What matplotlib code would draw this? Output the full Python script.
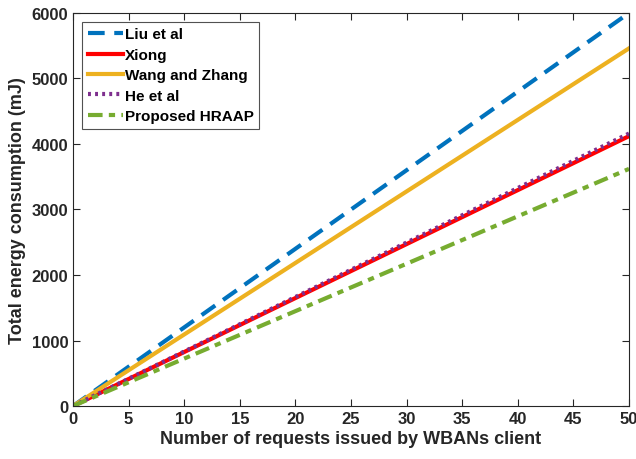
import matplotlib
matplotlib.use("Agg")
import matplotlib.pyplot as plt

x = [0, 5, 10, 15, 20, 25, 30, 35, 40, 45, 50]
liu = [0, 600, 1200, 1800, 2400, 3000, 3600, 4200, 4800, 5400, 6000]
xiong = [0, 412, 824, 1236, 1648, 2060, 2472, 2884, 3296, 3708, 4120]
wang = [0, 546, 1092, 1638, 2184, 2730, 3276, 3822, 4368, 4914, 5460]
he = [0, 416, 832, 1248, 1664, 2080, 2496, 2912, 3328, 3744, 4160]
proposed = [0, 362, 724, 1086, 1448, 1810, 2172, 2534, 2896, 3258, 3620]
labels = ["Liu et al", "Xiong", "Wang and Zhang", "He et al", "Proposed HRAAP"]
xticks = [0, 5, 10, 15, 20, 25, 30, 35, 40, 45, 50]
yticks = [0, 1000, 2000, 3000, 4000, 5000, 6000]

plt.rcParams['font.family'] = ['Liberation Sans', 'DejaVu Sans']
plt.rcParams['font.weight'] = 'bold'

fig = plt.figure(figsize=(6.36, 4.60), dpi=100)
ax = fig.add_axes([0.1148, 0.1152, 0.8742, 0.8544])

lw = 3.0
ax.plot(x, liu, color=(0, 0.447, 0.741), lw=lw, linestyle=(0, (4, 2.3)), label=labels[0])
ax.plot(x, xiong, color=(1, 0, 0), lw=lw, linestyle='-', label=labels[1])
ax.plot(x, wang, color=(0.929, 0.694, 0.125), lw=lw, linestyle='-', label=labels[2])
ax.plot(x, he, color=(0.494, 0.184, 0.556), lw=lw, linestyle=(0, (0.7, 1.0)), label=labels[3])
ax.plot(x, proposed, color=(0.466, 0.674, 0.188), lw=lw, linestyle=(0, (3.5, 1.5, 1.5, 1.5)), label=labels[4])

ax.set_xlim(0, 50)
ax.set_ylim(0, 6000)
ax.set_xticks(xticks)
ax.set_yticks(yticks)
ax.tick_params(direction='in', top=True, right=True, labelsize=12, colors=(0.15, 0.15, 0.15), length=5, width=0.8)
for s in ax.spines.values():
    s.set_color((0.15, 0.15, 0.15))
    s.set_linewidth(0.8)
for t in ax.get_xticklabels() + ax.get_yticklabels():
    t.set_fontweight('bold')
ax.set_xlabel("Number of requests issued by WBANs client", fontsize=13, fontweight='bold', color=(0.15, 0.15, 0.15), labelpad=3)
ax.set_ylabel("Total energy consumption (mJ)", fontsize=13, fontweight='bold', color=(0.15, 0.15, 0.15), labelpad=4)

leg = ax.legend(loc='upper left', fontsize=11, frameon=True, fancybox=False, edgecolor=(0.15, 0.15, 0.15),
                borderaxespad=0.6, handlelength=2.3, handletextpad=0.15, labelspacing=0.42, borderpad=0.35)
leg.get_frame().set_linewidth(0.8)
for t in leg.get_texts():
    t.set_fontweight('bold')

fig.savefig("out.png", dpi=100)
